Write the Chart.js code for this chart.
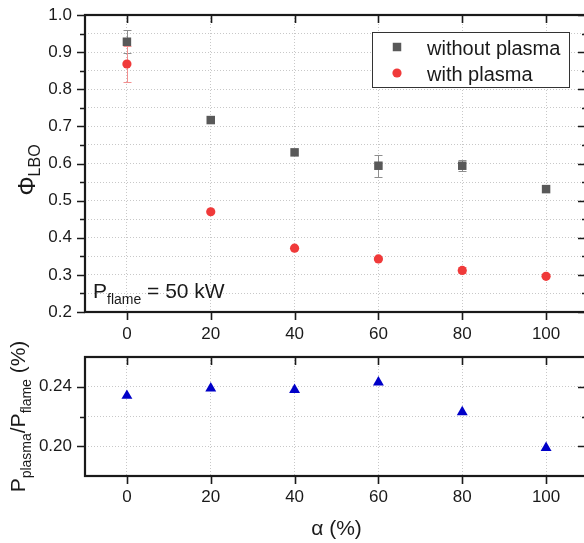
<!DOCTYPE html>
<html>
<head>
<meta charset="utf-8">
<script src="https://cdn.jsdelivr.net/npm/chart.js@4.4.0/dist/chart.umd.min.js"></script>
<style>
  html, body { margin: 0; padding: 0; background: #fff; overflow: hidden; }
  #wrap { position: relative; width: 584px; height: 543px; overflow: hidden; }
  canvas { position: absolute; left: 0; display: block; }
  #topChart { top: -15px; }
  #bottomChart { top: 320px; }
</style>
</head>
<body>
<div id="wrap">
  <canvas id="topChart" width="600" height="360"></canvas>
  <canvas id="bottomChart" width="600" height="223"></canvas>
</div>
<script>
// data
var alpha = [0, 20, 40, 60, 80, 100];
var phiWithout = [0.928, 0.717, 0.630, 0.594, 0.594, 0.531];
var phiWithoutErr = [0.031, 0, 0, 0.030, 0.015, 0];
var phiWith = [0.868, 0.470, 0.372, 0.343, 0.312, 0.296];
var phiWithErr = [0.048, 0, 0, 0, 0.008, 0];
var powerRatio = [0.234, 0.239, 0.238, 0.243, 0.223, 0.199];

// tick values
var topYMajor = [0.2, 0.3, 0.4, 0.5, 0.6, 0.7, 0.8, 0.9, 1.0];
var topYMinor = [0.25, 0.35, 0.45, 0.55, 0.65, 0.75, 0.85, 0.95];
var bottomYMajor = [0.20, 0.24];
var bottomYMinor = [0.22];

var FONT = '"Liberation Sans", Arial, sans-serif';
var INK = '#1a1a1a';
var GRID = '#c8c8c8';

function pts(ys) {
  return alpha.map(function (a, i) { return { x: a, y: ys[i] }; });
}

// vertical error bars, drawn under the markers
var errorBars = {
  id: 'errorBars',
  beforeDatasetsDraw: function (chart) {
    var ctx = chart.ctx, xs = chart.scales.x, ys = chart.scales.y;
    chart.data.datasets.forEach(function (ds) {
      if (!ds.errors) return;
      ctx.save();
      ctx.strokeStyle = ds.errorColor;
      ctx.lineWidth = 1;
      ds.data.forEach(function (p, i) {
        var e = ds.errors[i];
        if (!e) return;
        var x = Math.round(xs.getPixelForValue(p.x)) + 0.5;
        var y1 = Math.round(ys.getPixelForValue(p.y + e)) + 0.5;
        var y2 = Math.round(ys.getPixelForValue(p.y - e)) + 0.5;
        ctx.beginPath();
        ctx.moveTo(x, y1); ctx.lineTo(x, y2);
        ctx.moveTo(x - 4, y1); ctx.lineTo(x + 4, y1);
        ctx.moveTo(x - 4, y2); ctx.lineTo(x + 4, y2);
        ctx.stroke();
      });
      ctx.restore();
    });
  }
};

// box frame with Origin-style ticks
function frame(cfg) {
  return {
    id: 'frame',
    afterDraw: function (chart) {
      var ctx = chart.ctx, a = chart.chartArea, xs = chart.scales.x, ys = chart.scales.y;
      ctx.save();
      ctx.strokeStyle = INK;
      ctx.lineWidth = 1.6;
      ctx.beginPath();
      alpha.forEach(function (v) {
        var x = Math.round(xs.getPixelForValue(v)) + 0.5;
        ctx.moveTo(x, a.bottom); ctx.lineTo(x, a.bottom + 8);
        ctx.moveTo(x, a.top); ctx.lineTo(x, a.top + 8);
      });
      cfg.majorY.forEach(function (v) {
        var y = Math.round(ys.getPixelForValue(v)) + 0.5;
        ctx.moveTo(a.left - 8, y); ctx.lineTo(a.left, y);
        ctx.moveTo(a.right - 10, y); ctx.lineTo(a.right, y);
      });
      cfg.minorY.forEach(function (v) {
        var y = Math.round(ys.getPixelForValue(v)) + 0.5;
        ctx.moveTo(a.left - 5, y); ctx.lineTo(a.left, y);
        ctx.moveTo(a.right - 6, y); ctx.lineTo(a.right, y);
      });
      ctx.stroke();
      ctx.lineWidth = 2.2;
      ctx.strokeRect(a.left, a.top, a.right - a.left, a.bottom - a.top);
      if (cfg.extra) cfg.extra(ctx, chart);
      ctx.restore();
    }
  };
}

function xScale(height, pad) {
  return {
    type: 'linear', min: -10, max: 110,
    afterBuildTicks: function (s) { s.ticks = alpha.map(function (v) { return { value: v }; }); },
    afterFit: function (s) { s.height = height; },
    grid: { color: GRID, lineWidth: 1, drawTicks: false },
    border: { display: false, dash: [1, 2] },
    ticks: { color: INK, font: { family: FONT, size: 17 }, padding: pad, maxRotation: 0, autoSkip: false }
  };
}

function yScale(min, max, major, minor, digits) {
  return {
    type: 'linear', min: min, max: max,
    afterBuildTicks: function (s) {
      s.ticks = major.concat(minor).sort().map(function (v) { return { value: v }; });
    },
    afterFit: function (s) { s.width = 85; },
    grid: { color: GRID, lineWidth: 1, drawTicks: false },
    border: { display: false, dash: [1, 2] },
    ticks: {
      color: INK, font: { family: FONT, size: 17 }, padding: 13, autoSkip: false,
      callback: function (v) {
        return major.some(function (m) { return Math.abs(m - v) < 1e-9; }) ? v.toFixed(digits) : '';
      }
    }
  };
}

// upper panel (canvas starts 15px above the page)
var OFF = 15;
new Chart(document.getElementById('topChart'), {
  type: 'scatter',
  data: {
    datasets: [
      {
        label: 'without plasma', data: pts(phiWithout), errors: phiWithoutErr, errorColor: '#8e8e8e',
        pointStyle: 'rect', pointRadius: 6, backgroundColor: '#595959', borderColor: '#595959', borderWidth: 0
      },
      {
        label: 'with plasma', data: pts(phiWith), errors: phiWithErr, errorColor: '#f29090',
        pointStyle: 'circle', pointRadius: 4.6, backgroundColor: '#f03a3a', borderColor: '#f03a3a', borderWidth: 0
      }
    ]
  },
  options: {
    responsive: false,
    animation: false,
    layout: { autoPadding: false, padding: { top: 30, right: 12, left: 0, bottom: 0 } },
    plugins: { legend: { display: false }, tooltip: { enabled: false } },
    scales: {
      x: xScale(33, 12),
      y: yScale(0.2, 1.0, topYMajor, topYMinor, 1)
    }
  },
  plugins: [errorBars, frame({
    majorY: topYMajor,
    minorY: topYMinor,
    extra: function (ctx, chart) {
      ctx.translate(0, OFF);
      // y title: Φ_LBO
      ctx.save();
      ctx.translate(35, 170);
      ctx.rotate(-Math.PI / 2);
      ctx.fillStyle = INK;
      ctx.textBaseline = 'alphabetic';
      ctx.font = '24px ' + FONT;
      var w1 = ctx.measureText('Φ').width;
      ctx.font = '16px ' + FONT;
      var w2 = ctx.measureText('LBO').width;
      var x0 = -(w1 + w2) / 2;
      ctx.font = '24px ' + FONT;
      ctx.fillText('Φ', x0, 0);
      ctx.font = '16px ' + FONT;
      ctx.fillText('LBO', x0 + w1, 5);
      ctx.restore();

      // annotation
      ctx.fillStyle = INK;
      ctx.textBaseline = 'alphabetic';
      ctx.font = '21px ' + FONT;
      ctx.fillText('P', 93, 298);
      var px = 93 + ctx.measureText('P').width;
      ctx.font = '14px ' + FONT;
      ctx.fillText('flame', px, 304);
      px += ctx.measureText('flame').width;
      ctx.font = '21px ' + FONT;
      ctx.fillText(' = 50 kW', px, 298);

      // legend
      ctx.fillStyle = '#fff';
      ctx.fillRect(372, 32, 197, 55);
      ctx.lineWidth = 1;
      ctx.strokeStyle = '#333';
      ctx.strokeRect(372.5, 32.5, 197, 55);
      var rows = [47, 73];
      chart.data.datasets.forEach(function (ds, i) {
        ctx.fillStyle = ds.backgroundColor;
        Chart.helpers.drawPoint(ctx, { pointStyle: ds.pointStyle, radius: ds.pointRadius, rotation: 0, borderWidth: 0 }, 397, rows[i]);
        ctx.fillStyle = INK;
        ctx.font = '20px ' + FONT;
        ctx.fillText(ds.label, 427, rows[i] + 7.5);
      });
    }
  })]
});

// lower panel
new Chart(document.getElementById('bottomChart'), {
  type: 'scatter',
  data: {
    datasets: [
      {
        label: 'Pplasma/Pflame', data: pts(powerRatio),
        pointStyle: 'triangle', pointRadius: 6.3, backgroundColor: '#0000c8', borderColor: '#0000c8', borderWidth: 0
      }
    ]
  },
  options: {
    responsive: false,
    animation: false,
    layout: { autoPadding: false, padding: { top: 37, right: 12, left: 0, bottom: 0 } },
    plugins: { legend: { display: false }, tooltip: { enabled: false } },
    scales: {
      x: xScale(67, 11),
      y: yScale(0.18, 0.26, bottomYMajor, bottomYMinor, 2)
    }
  },
  plugins: [frame({
    majorY: bottomYMajor,
    minorY: bottomYMinor,
    extra: function (ctx, chart) {
      var a = chart.chartArea;
      // y title: P_plasma/P_flame (%)
      ctx.save();
      ctx.translate(25, (a.top + a.bottom) / 2);
      ctx.rotate(-Math.PI / 2);
      ctx.fillStyle = INK;
      ctx.textBaseline = 'alphabetic';
      var parts = [['P', 21, 0], ['plasma', 14, 6], ['/P', 21, 0], ['flame', 14, 6], [' (%)', 21, 0]];
      var total = 0;
      parts.forEach(function (p) { ctx.font = p[1] + 'px ' + FONT; total += ctx.measureText(p[0]).width; });
      var x = -total / 2;
      parts.forEach(function (p) {
        ctx.font = p[1] + 'px ' + FONT;
        ctx.fillText(p[0], x, p[2]);
        x += ctx.measureText(p[0]).width;
      });
      ctx.restore();

      // x title
      ctx.fillStyle = INK;
      ctx.font = '21px ' + FONT;
      ctx.textAlign = 'center';
      ctx.textBaseline = 'middle';
      ctx.fillText('α (%)', (a.left + a.right) / 2, 209);
    }
  })]
});
</script>
</body>
</html>
